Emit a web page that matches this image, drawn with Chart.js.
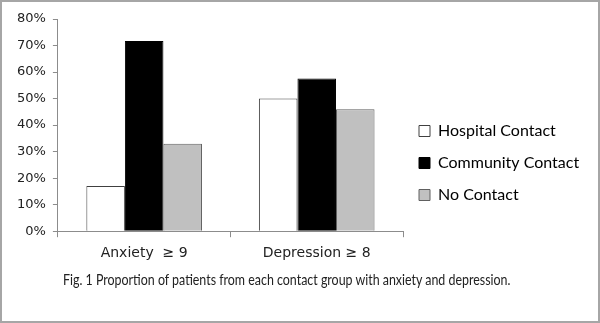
<!DOCTYPE html>
<html>
<head>
<meta charset="utf-8">
<script src="https://cdn.jsdelivr.net/npm/chart.js@4.4.0/dist/chart.umd.min.js"></script>
<style>
  html, body { margin: 0; padding: 0; background: #fff; }
  #wrap { position: relative; width: 600px; height: 323px; box-sizing: border-box; border: 2px solid #a6a6a6; }
  canvas { display: block; }
  #caption {
    position: absolute; left: 61px; top: 268px; white-space: nowrap;
    font-family: Lato, sans-serif; font-size: 15px; line-height: 18px; color: #222;
    transform-origin: 0 0;
  }
</style>
</head>
<body>
<div id="wrap">
  <canvas id="chart" width="596" height="319"></canvas>
  <div id="caption">Fig. 1 Proportion of patients from each contact group with anxiety and depression.</div>
</div>
<script>
const categories = ['Anxiety  \u2265 9', 'Depression \u2265 8'];
const hospitalContact = [17, 50];
const communityContact = [71.7, 57.6];
const noContact = [33, 46];
const yTicks = [0, 10, 20, 30, 40, 50, 60, 70, 80];

const axisColor = '#8c8c8c';

// squeeze the caption to the width it has in the figure
const cap = document.getElementById('caption');
cap.style.transform = 'scaleX(' + (447 / cap.offsetWidth) + ')';

new Chart(document.getElementById('chart'), {
  type: 'bar',
  data: {
    labels: categories,
    datasets: [
      { label: 'Hospital Contact', data: hospitalContact, backgroundColor: '#ffffff', borderColor: '#404040', borderWidth: 1 },
      { label: 'Community Contact', data: communityContact, backgroundColor: '#000000', borderColor: '#000000', borderWidth: 1 },
      { label: 'No Contact', data: noContact, backgroundColor: '#c0c0c0', borderColor: '#606060', borderWidth: 1 }
    ]
  },
  options: {
    responsive: false,
    animation: false,
    layout: { padding: { left: 8, right: 17, top: 17, bottom: 14 } },
    datasets: { bar: { categoryPercentage: 0.67, barPercentage: 1.0 } },
    plugins: {
      legend: {
        position: 'right',
        maxWidth: 178,
        labels: {
          boxWidth: 11, boxHeight: 11, padding: 16,
          color: '#000', font: { family: 'Lato', size: 16 }
        }
      },
      tooltip: { enabled: false }
    },
    scales: {
      x: {
        // leave room under the labels for the caption
        afterFit: (scale) => { scale.height += 37; },
        grid: { display: true, drawOnChartArea: false, color: axisColor, tickLength: 6 },
        border: { color: axisColor },
        ticks: { color: '#222', padding: 8, font: { family: 'DejaVu Sans', size: 14 } }
      },
      y: {
        min: 0, max: 80,
        afterBuildTicks: (axis) => { axis.ticks = yTicks.map(v => ({ value: v })); },
        grid: { display: true, drawOnChartArea: false, color: axisColor, tickLength: 5 },
        border: { color: axisColor },
        ticks: { color: '#222', padding: 7, font: { family: 'DejaVu Sans', size: 13 }, callback: v => v + '%' }
      }
    }
  }
});
</script>
</body>
</html>
